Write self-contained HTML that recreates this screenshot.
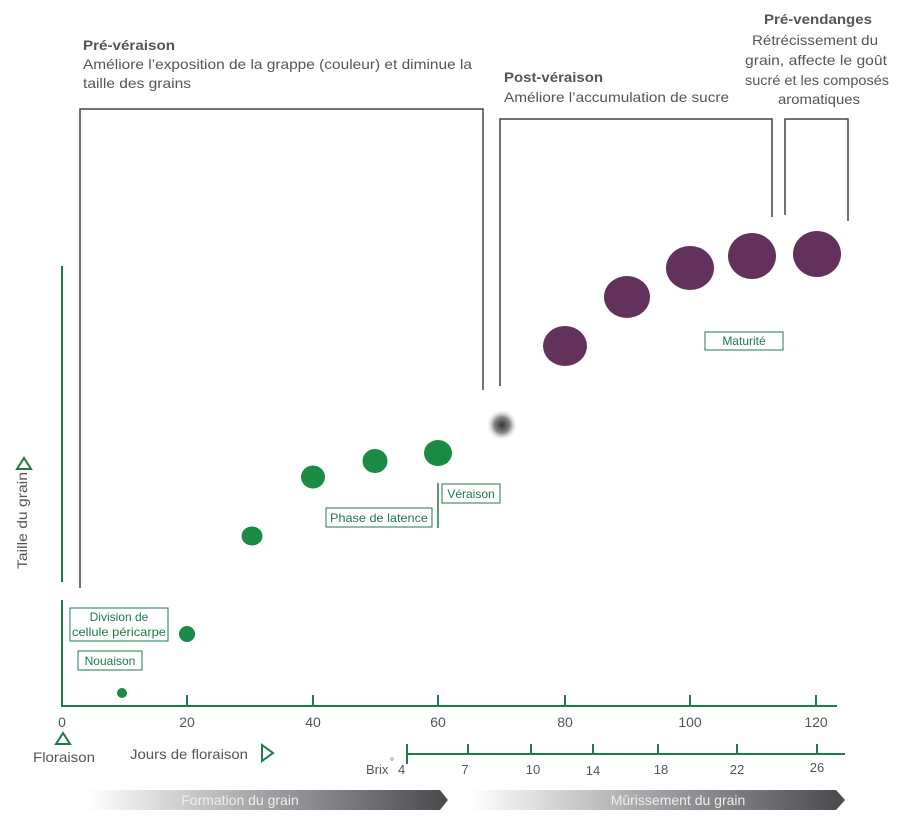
<!DOCTYPE html>
<html><head><meta charset="utf-8"><style>body{margin:0;background:#fff}svg{display:block}</style></head><body>
<svg width="902" height="824" viewBox="0 0 902 824" xmlns="http://www.w3.org/2000/svg" font-family="Liberation Sans, sans-serif">
<defs>
<linearGradient id="g1" x1="0" x2="1"><stop offset="0" stop-color="#fff"/><stop offset="0.5" stop-color="#a0a0a4"/><stop offset="1" stop-color="#4a4a4e"/></linearGradient>
<radialGradient id="rg"><stop offset="0" stop-color="#333"/><stop offset="0.5" stop-color="#888"/><stop offset="1" stop-color="#fff" stop-opacity="0"/></radialGradient>
</defs>
<g fill="#555" font-size="14">
<text x="83" y="50" font-weight="bold" textLength="92" lengthAdjust="spacingAndGlyphs">Pré-véraison</text>
<text x="83" y="69" textLength="389" lengthAdjust="spacingAndGlyphs">Améliore l’exposition de la grappe (couleur) et diminue la</text>
<text x="83" y="88" textLength="108" lengthAdjust="spacingAndGlyphs">taille des grains</text>
<text x="504" y="82" font-weight="bold" textLength="99" lengthAdjust="spacingAndGlyphs">Post-véraison</text>
<text x="504" y="102" textLength="225" lengthAdjust="spacingAndGlyphs">Améliore l’accumulation de sucre</text>
<text x="764" y="24" font-weight="bold" textLength="108" lengthAdjust="spacingAndGlyphs">Pré-vendanges</text>
<text x="752" y="45" textLength="126" lengthAdjust="spacingAndGlyphs">Rétrécissement du</text>
<text x="745" y="65" textLength="142" lengthAdjust="spacingAndGlyphs">grain, affecte le goût</text>
<text x="745" y="85" textLength="144" lengthAdjust="spacingAndGlyphs">sucré et les composés</text>
<text x="778" y="104" textLength="82" lengthAdjust="spacingAndGlyphs">aromatiques</text>
</g>
<g fill="none" stroke="#444" stroke-width="1.5">
<polyline points="80,588 80,109 483,109 483,390"/>
<polyline points="500,386 500,119 772,119 772,217"/>
<polyline points="785,215 785,119 848,119 848,221"/>
</g>
<g stroke="#1e7a48" stroke-width="2" fill="none">
<line x1="62" y1="266" x2="62" y2="582"/>
<line x1="62" y1="600" x2="62" y2="707"/>
<line x1="62" y1="706" x2="837" y2="706"/>
<path d="M187 706V695M313 706V695M438 706V695M565 706V695M690 706V695M816 706V695"/>
<line x1="407" y1="754" x2="845" y2="754"/>
<path d="M407 744V764M468 754V744M531 754V744M593 754V744M658 754V744M737 754V744M817 754V744"/>
<line x1="438" y1="483" x2="438" y2="528" stroke-width="1.5"/>
<path d="M56 744L63 733L70 744Z"/>
<path d="M262 745L273 753L262 761Z"/>
<path d="M17 469L24 458L31 469Z"/>
</g>
<g fill="#555" font-size="14">
<text x="62" y="727" text-anchor="middle">0</text>
<text x="187" y="727" text-anchor="middle">20</text>
<text x="313" y="727" text-anchor="middle">40</text>
<text x="438" y="727" text-anchor="middle">60</text>
<text x="565" y="727" text-anchor="middle">80</text>
<text x="690" y="727" text-anchor="middle">100</text>
<text x="816" y="727" text-anchor="middle">120</text>
<text x="33" y="762" textLength="62" lengthAdjust="spacingAndGlyphs">Floraison</text>
<text x="130" y="759" textLength="118" lengthAdjust="spacingAndGlyphs">Jours de floraison</text>
<text x="366" y="774" font-size="13">Brix</text><text x="390" y="765" font-size="10">°</text>
<text x="398" y="774" font-size="13">4</text>
<text x="465" y="774" font-size="13" text-anchor="middle">7</text>
<text x="533" y="774" font-size="13" text-anchor="middle">10</text>
<text x="593" y="775" font-size="13" text-anchor="middle">14</text>
<text x="661" y="774" font-size="13" text-anchor="middle">18</text>
<text x="737" y="774" font-size="13" text-anchor="middle">22</text>
<text x="817" y="772" font-size="13" text-anchor="middle">26</text>
<text transform="translate(27,569) rotate(-90)" textLength="97" lengthAdjust="spacingAndGlyphs">Taille du grain</text>
</g>
<path d="M88 790H440L448 800L440 810H88Z" fill="url(#g1)"/>
<path d="M470 790H836L845 800L836 810H470Z" fill="url(#g1)"/>
<text x="240" y="805" fill="#eee" font-size="14" text-anchor="middle">Formation du grain</text>
<text x="678" y="805" fill="#eee" font-size="14" text-anchor="middle">Mûrissement du grain</text>
<g fill="#1a8a45">
<circle cx="122" cy="693" r="5"/>
<circle cx="187" cy="634" r="8"/>
<ellipse cx="252" cy="536" rx="10.5" ry="9.5"/>
<ellipse cx="313" cy="477" rx="12" ry="11.5"/>
<ellipse cx="375" cy="461" rx="12.5" ry="12"/>
<ellipse cx="438" cy="453" rx="14" ry="13"/>
</g>
<circle cx="502" cy="425" r="16" fill="url(#rg)"/>
<g fill="#63325c">
<ellipse cx="565" cy="346" rx="22" ry="20"/>
<ellipse cx="627" cy="297" rx="23" ry="21"/>
<ellipse cx="690" cy="268" rx="24" ry="22"/>
<ellipse cx="752" cy="256" rx="24" ry="23"/>
<ellipse cx="817" cy="254" rx="24" ry="23"/>
</g>
<g fill="#fff" stroke="#1e7a48" stroke-width="1">
<rect x="70" y="608" width="98" height="33"/>
<rect x="78" y="651" width="64" height="19"/>
<rect x="326" y="508" width="106" height="19"/>
<rect x="442" y="484" width="58" height="19"/>
<rect x="705" y="332" width="78" height="18"/>
</g>
<g fill="#1e7a48" font-size="12" text-anchor="middle">
<text x="119" y="621">Division de</text>
<text x="119" y="636" textLength="94" lengthAdjust="spacingAndGlyphs">cellule péricarpe</text>
<text x="110" y="665">Nouaison</text>
<text x="379" y="522" textLength="98" lengthAdjust="spacingAndGlyphs">Phase de latence</text>
<text x="471" y="498">Véraison</text>
<text x="744" y="345">Maturité</text>
</g>
</svg>
</body></html>
